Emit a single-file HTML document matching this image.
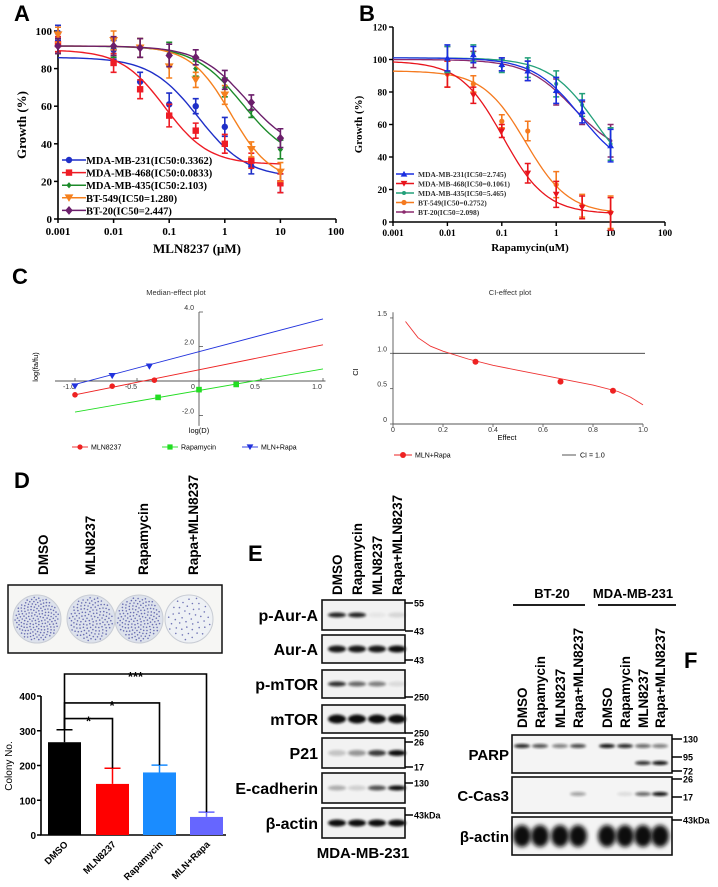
<!DOCTYPE html>
<html><head><meta charset="utf-8">
<style>
html,body{margin:0;padding:0;background:#fff;}
svg{display:block;}
.lbl{font-family:"Liberation Sans",Arial,sans-serif;font-weight:bold;font-size:22px;}
.ser{font-family:"Liberation Serif","Times New Roman",serif;font-weight:bold;}
.san{font-family:"Liberation Sans",Arial,sans-serif;}
.b{font-family:"Liberation Sans",Arial,sans-serif;font-weight:bold;}
</style></head>
<body>
<svg id="fig" width="718" height="887" viewBox="0 0 718 887" xmlns="http://www.w3.org/2000/svg">
<defs>
<filter id="blur1" x="-20%" y="-50%" width="140%" height="200%"><feGaussianBlur stdDeviation="1.2"/></filter>
<filter id="blur2" x="-20%" y="-50%" width="140%" height="200%"><feGaussianBlur stdDeviation="2"/></filter>
</defs>
<text class="lbl" x="14" y="21">A</text>
<text class="lbl" x="359" y="21">B</text>
<text class="lbl" x="12" y="284">C</text>
<text class="lbl" x="14" y="488">D</text>
<text class="lbl" x="248" y="561">E</text>
<text class="lbl" x="684" y="668">F</text>

<g id="gA"></g>
<g id="gB"></g>
<g id="gC1"></g>
<g id="gC2"></g>
<g id="gD"></g>
<g id="gE"></g>
<g id="gF"></g>
</svg>
<script>
// ---------- Panel A data ----------
const doseA = [0.001, 0.01, 0.03, 0.1, 0.3, 1, 3, 10];
const namesA = ["MDA-MB-231(IC50:0.3362)","MDA-MB-468(IC50:0.0833)","MDA-MB-435(IC50:2.103)","BT-549(IC50=1.280)","BT-20(IC50=2.447)"];
const a231 = [99, 90, 73, 61, 60, 49, 28, 19];
const a468 = [93, 83, 69, 55, 47, 40, 31, 19];
const a435 = [92, 91, 91, 88, 80, 70, 58, 37];
const a549 = [98, 95, 91, 81, 74, 66, 37, 25];
const aBT20 = [92, 92, 91, 87, 86, 74, 62, 43];
const errA = [4, 5, 5, 6, 4, 5, 4, 5];
const topA = [86, 90, 92, 92, 92];
const botA = [22, 29, 30, 20, 35];
const ic50A = [0.3362, 0.0833, 2.103, 1.28, 2.447];
const hillA = [1, 1.1, 1, 1.2, 1];
const yTicksA = [0, 20, 40, 60, 80, 100];
const xTicksA = ["0.001","0.01","0.1","1","10","100"];

// ---------- Panel B data ----------
const doseB = [0.01, 0.03, 0.1, 0.3, 1, 3, 10];
const namesB = ["MDA-MB-231(IC50=2.745)","MDA-MB-468(IC50=0.1061)","MDA-MB-435(IC50=5.465)","BT-549(IC50=0.2752)","BT-20(IC50=2.098)"];
const b231 = [101, 103, 97, 93, 81, 68, 47];
const b468 = [91, 78, 56, 30, 17, 9, 5];
const b435 = [100, 104, 96, 95, 85, 72, 48];
const b549 = [91, 85, 62, 56, 23, 10, 6];
const bBT20 = [100, 100, 97, 93, 80, 67, 50];
const errB = [8, 5, 4, 6, 8, 7, 10];
const topB = [101, 99, 101, 93, 100];
const botB = [30, 5, 20, 5, 40];
const ic50B = [2.745, 0.1061, 5.465, 0.2752, 2.098];
const hillB = [1, 1.1, 1, 1.1, 1];
const yTicksB = [0, 20, 40, 60, 80, 100, 120];

// ---------- Panel C data ----------
const medTicksX = [-1.0, -0.5, 0, 0.5, 1.0];
const medTicksY = [-2.0, 2.0, 4.0];
const lineMLN = [-0.8, 2.1];
const lineRapa = [-1.8, 0.7];
const lineCombo = [-0.2, 3.6];
const ptsMLNx = [-1.0, -0.7, -0.36];
const ptsMLNy = [-0.8, -0.3, 0.05];
const ptsRapaX = [-0.33, 0.0, 0.3];
const ptsRapaY = [-0.95, -0.5, -0.2];
const ptsComboX = [-1.0, -0.7, -0.4];
const ptsComboY = [-0.3, 0.3, 0.85];
const ciEffect = [0.05, 0.1, 0.15, 0.2, 0.3, 0.4, 0.5, 0.6, 0.7, 0.8, 0.9, 0.95, 1.0];
const ciValue = [1.45, 1.22, 1.1, 1.03, 0.92, 0.83, 0.76, 0.69, 0.62, 0.55, 0.46, 0.38, 0.27];
const ciPtsX = [0.33, 0.67, 0.88];
const ciPtsY = [0.88, 0.6, 0.47];
const ciTicksY = [0, 0.5, 1.0, 1.5];
const ciTicksX = [0, 0.2, 0.4, 0.6, 0.8, 1.0];

// ---------- Panel D data ----------
const colonyCats = ["DMSO","MLN8237","Rapamycin","MLN+Rapa"];
const colonyVals = [267, 147, 180, 52];
const colonyErr = [36, 45, 21, 14];
const colonyTicks = [0, 100, 200, 300, 400];

const NS = "http://www.w3.org/2000/svg";
function mk(parent, tag, attrs, txt){
  const e = document.createElementNS(NS, tag);
  for (const k in attrs) e.setAttribute(k, attrs[k]);
  if (txt !== undefined) e.textContent = txt;
  parent.appendChild(e);
  return e;
}
function marker(g, shape, x, y, s, col){
  let e;
  if (shape === "circle") e = mk(g, "circle", {cx:x, cy:y, r:s, fill:col});
  else if (shape === "square") e = mk(g, "rect", {x:x-s, y:y-s, width:2*s, height:2*s, fill:col});
  else if (shape === "diamond") e = mk(g, "polygon", {points:`${x},${y-s*1.3} ${x+s*1.1},${y} ${x},${y+s*1.3} ${x-s*1.1},${y}`, fill:col});
  else if (shape === "tdown") e = mk(g, "polygon", {points:`${x-s*1.3},${y-s} ${x+s*1.3},${y-s} ${x},${y+s*1.2}`, fill:col});
  else if (shape === "tup") e = mk(g, "polygon", {points:`${x-s*1.3},${y+s} ${x+s*1.3},${y+s} ${x},${y-s*1.2}`, fill:col});
  else e = mk(g, "circle", {cx:x, cy:y, r:s, fill:col});
  
  
  return e;
}
function fourPL(x, top, bot, ic, h){ return bot + (top - bot) / (1 + Math.pow(x / ic, h)); }

// ===== Panel A =====
(function(){
  const g = document.getElementById("gA");
  const x0 = 58, dec = 55.6, yb = 219, yt = 31;
  const sx = d => x0 + (Math.log10(d) + 3) * dec;
  const sy = v => yb - (v / 100) * (yb - yt);
  const ax = mk(g, "path", {d:`M${x0},${yt-2} V${yb} H${sx(100)}`, stroke:"#000", "stroke-width":1.6, fill:"none"});
  
  
  yTicksA.forEach(v => {
    mk(g, "line", {x1:x0-4, x2:x0, y1:sy(v), y2:sy(v), stroke:"#000", "stroke-width":1.5});
    const t = mk(g, "text", {x:x0-6, y:sy(v)+4, "text-anchor":"end", class:"ser", "font-size":11}, v);
    
    
  });
  xTicksA.forEach((s, i) => {
    const x = x0 + i * dec;
    mk(g, "line", {x1:x, x2:x, y1:yb, y2:yb+4, stroke:"#000", "stroke-width":1.5});
    const t = mk(g, "text", {x:x, y:yb+16, "text-anchor":"middle", class:"ser", "font-size":11}, s);
    
    
  });
  const yt1 = mk(g, "text", {x:0, y:0, transform:`translate(26,${(yb+yt)/2}) rotate(-90)`, "text-anchor":"middle", class:"ser", "font-size":13}, "Growth (%)");
  
  
  const xt1 = mk(g, "text", {x:197, y:253, "text-anchor":"middle", class:"ser", "font-size":13}, "MLN8237 (\u00b5M)");
  
  
  const series = [a231, a468, a435, a549, aBT20];
  const cols = ["#1f2fc8","#ee1c25","#1c8a2a","#f5801e","#6b1e6b"];
  const shapes = ["circle","square","diamond","tdown","diamond"];
  const sizes = [3.2, 3.2, 2.4, 3.4, 3.4];
  series.forEach((arr, i) => {
    let d = "";
    for (let k = 0; k <= 80; k++){
      const lx = -3 + k * 4 / 80; const xv = Math.pow(10, lx);
      d += (k ? "L" : "M") + sx(xv).toFixed(1) + "," + sy(fourPL(xv, topA[i], botA[i], ic50A[i], hillA[i])).toFixed(1);
    }
    const c = mk(g, "path", {d:d, stroke:cols[i], "stroke-width":1.4, fill:"none"});
    
    
    arr.forEach((v, k) => {
      const x = sx(doseA[k]);
      mk(g, "path", {d:`M${x},${sy(v+errA[k])} V${sy(v-errA[k])} M${x-3},${sy(v+errA[k])} H${x+3} M${x-3},${sy(v-errA[k])} H${x+3}`, stroke:cols[i], "stroke-width":1.6, fill:"none"});
      marker(g, shapes[i], x, sy(v), sizes[i], cols[i]);
    });
    const ly = 160 + i * 12.6;
    const ll = mk(g, "line", {x1:62, x2:86, y1:ly, y2:ly, stroke:cols[i], "stroke-width":1.5});
    
    
    marker(g, shapes[i], 69, ly, sizes[i], cols[i]);
    const lt = mk(g, "text", {x:86, y:ly+4, class:"ser", "font-size":10.5}, namesA[i]);
    
    
  });
})();

// ===== Panel B =====
(function(){
  const g = document.getElementById("gB");
  const x0 = 393, dec = 54.4, yb = 222, yt = 27;
  const sx = d => x0 + (Math.log10(d) + 3) * dec;
  const sy = v => yb - (v / 120) * (yb - yt);
  const ax = mk(g, "path", {d:`M${x0},${yt} V${yb} H${sx(100)}`, stroke:"#000", "stroke-width":1.5, fill:"none"});
  
  
  yTicksB.forEach(v => {
    mk(g, "line", {x1:x0-4, x2:x0, y1:sy(v), y2:sy(v), stroke:"#000", "stroke-width":1.4});
    const t = mk(g, "text", {x:x0-6, y:sy(v)+3.5, "text-anchor":"end", class:"ser", "font-size":9.5}, v);
    
    
  });
  xTicksA.forEach((s, i) => {
    const x = x0 + i * dec;
    mk(g, "line", {x1:x, x2:x, y1:yb, y2:yb+4, stroke:"#000", "stroke-width":1.4});
    const t = mk(g, "text", {x:x, y:yb+14, "text-anchor":"middle", class:"ser", "font-size":9.5}, s);
    
    
  });
  const yt1 = mk(g, "text", {x:0, y:0, transform:`translate(362,${(yb+yt)/2}) rotate(-90)`, "text-anchor":"middle", class:"ser", "font-size":11}, "Growth (%)");
  
  
  const xt1 = mk(g, "text", {x:530, y:251, "text-anchor":"middle", class:"ser", "font-size":11}, "Rapamycin(uM)");
  
  
  const series = [b231, b468, b435, b549, bBT20];
  const cols = ["#1a2ee0","#e8141c","#23a07a","#f57a1f","#8b2a6e"];
  const shapes = ["tup","tdown","circle","circle","circle"];
  const sizes = [2.6, 2.6, 2, 2.6, 1.8];
  const order = [3,1,4,2,0];
  order.forEach(i => {
    const arr = series[i];
    let d = "";
    for (let k = 0; k <= 80; k++){
      const lx = -3 + k * 4 / 80; const xv = Math.pow(10, lx);
      if (xv > 11) break;
      d += (k ? "L" : "M") + sx(xv).toFixed(1) + "," + sy(fourPL(xv, topB[i], botB[i], ic50B[i], hillB[i])).toFixed(1);
    }
    const c = mk(g, "path", {d:d, stroke:cols[i], "stroke-width":1.3, fill:"none"});
    
    
    arr.forEach((v, k) => {
      const x = sx(doseB[k]);
      mk(g, "path", {d:`M${x},${sy(v+errB[k])} V${sy(v-errB[k])} M${x-3},${sy(v+errB[k])} H${x+3} M${x-3},${sy(v-errB[k])} H${x+3}`, stroke:cols[i], "stroke-width":1.6, fill:"none"});
      marker(g, shapes[i], x, sy(v), sizes[i], cols[i]);
    });
  });
  [0,1,2,3,4].forEach(i => {
    const ly = 174 + i * 9.5;
    const ll = mk(g, "line", {x1:396, x2:414, y1:ly, y2:ly, stroke:cols[i], "stroke-width":1.4});
    
    
    marker(g, shapes[i], 404, ly, sizes[i], cols[i]);
    const lt = mk(g, "text", {x:418, y:ly+3, class:"ser", "font-size":7.5, fill:"#333"}, namesB[i]);
    
    
  });
})();

// ===== Panel C left: median-effect plot =====
(function(){
  const g = document.getElementById("gC1");
  const x0 = 199, ux = 124, y0 = 381, uy = 17.25;
  const sx = v => x0 + v * ux;
  const sy = v => y0 - v * uy;
  const tt = mk(g, "text", {x:176, y:295, "text-anchor":"middle", class:"san", "font-size":7.5, fill:"#333"}, "Median-effect plot");
  
  
  mk(g, "path", {d:`M55,${y0} H${sx(1.02)} M${x0},${sy(4)} V${sy(-2.6)}`, stroke:"#555", "stroke-width":0.9, fill:"none"});
  medTicksY.forEach(v => {
    mk(g, "line", {x1:x0, x2:x0+4, y1:sy(v), y2:sy(v), stroke:"#555", "stroke-width":0.8});
    const t = mk(g, "text", {x:x0-5, y:sy(v)-2, "text-anchor":"end", class:"san", "font-size":7, fill:"#333"}, v.toFixed(1));
    
    
  });
  medTicksX.forEach(v => {
    mk(g, "line", {x1:sx(v), x2:sx(v), y1:y0, y2:y0-3, stroke:"#555", "stroke-width":0.8});
    const t = mk(g, "text", {x:sx(v)-6, y:y0+8, "text-anchor":"middle", class:"san", "font-size":7, fill:"#333"}, v === 0 ? "0" : v.toFixed(1));
    
    
  });
  const yl = mk(g, "text", {x:0, y:0, transform:`translate(38,367) rotate(-90)`, "text-anchor":"middle", class:"san", "font-size":7.5}, "log(fa/fu)");
  
  
  const xl = mk(g, "text", {x:199, y:433, "text-anchor":"middle", class:"san", "font-size":7.5}, "log(D)");
  
  
  const defs = [
    [lineMLN, ptsMLNx, ptsMLNy, "#ee2222", "circle", "MLN8237", 80],
    [lineRapa, ptsRapaX, ptsRapaY, "#22dd22", "square", "Rapamycin", 170],
    [lineCombo, ptsComboX, ptsComboY, "#2233dd", "tdown", "MLN+Rapa", 250]
  ];
  defs.forEach(dd => {
    const l = mk(g, "line", {x1:sx(-1), y1:sy(dd[0][0]), x2:sx(1), y2:sy(dd[0][1]), stroke:dd[3], "stroke-width":0.9});
    
    
    dd[1].forEach((xv, k) => marker(g, dd[4], sx(xv), sy(dd[2][k]), 2.8, dd[3]));
    mk(g, "line", {x1:dd[6]-8, x2:dd[6]+8, y1:447, y2:447, stroke:dd[3], "stroke-width":0.9});
    marker(g, dd[4], dd[6], 447, 2.6, dd[3]);
    const t = mk(g, "text", {x:dd[6]+11, y:449.5, class:"san", "font-size":7}, dd[5]);
    
    
  });
})();

// ===== Panel C right: CI-effect plot =====
(function(){
  const g = document.getElementById("gC2");
  const x0 = 393, ux = 250, y0 = 424, uy = 70.7;
  const sx = v => x0 + v * ux;
  const sy = v => y0 - v * uy;
  const tt = mk(g, "text", {x:510, y:295, "text-anchor":"middle", class:"san", "font-size":7.5, fill:"#333"}, "CI-effect plot");
  
  
  mk(g, "path", {d:`M${x0},${sy(1.58)} V${y0} H${sx(1.0)}`, stroke:"#555", "stroke-width":0.9, fill:"none"});
  ciTicksY.forEach(v => {
    mk(g, "line", {x1:x0-3, x2:x0, y1:sy(v), y2:sy(v), stroke:"#555", "stroke-width":0.8});
    const t = mk(g, "text", {x:x0-6, y:sy(v)-2, "text-anchor":"end", class:"san", "font-size":7, fill:"#333"}, v === 0 ? "0" : v.toFixed(1));
    
    
  });
  ciTicksX.forEach(v => {
    mk(g, "line", {x1:sx(v), x2:sx(v), y1:y0, y2:y0+3, stroke:"#555", "stroke-width":0.8});
    const t = mk(g, "text", {x:sx(v), y:y0+8, "text-anchor":"middle", class:"san", "font-size":7, fill:"#333"}, v === 0 ? "0" : v.toFixed(1));
    
    
  });
  const ref = mk(g, "line", {x1:x0, x2:645, y1:sy(1), y2:sy(1), stroke:"#333", "stroke-width":0.9});
  
  
  const yl = mk(g, "text", {x:0, y:0, transform:`translate(358,372) rotate(-90)`, "text-anchor":"middle", class:"san", "font-size":7.5}, "CI");
  
  
  const xl = mk(g, "text", {x:507, y:440, "text-anchor":"middle", class:"san", "font-size":7.5}, "Effect");
  
  
  let d = "";
  ciEffect.forEach((e, k) => { d += (k ? "L" : "M") + sx(e).toFixed(1) + "," + sy(ciValue[k]).toFixed(1); });
  const c = mk(g, "path", {d:d, stroke:"#ee3333", "stroke-width":0.9, fill:"none"});
  
  
  ciPtsX.forEach((e, k) => marker(g, "circle", sx(e), sy(ciPtsY[k]), 3, "#ee2222"));
  mk(g, "line", {x1:394, x2:412, y1:455, y2:455, stroke:"#ee2222", "stroke-width":0.9});
  marker(g, "circle", 403, 455, 3, "#ee2222");
  const t1 = mk(g, "text", {x:415, y:457.5, class:"san", "font-size":7}, "MLN+Rapa");
  
  
  mk(g, "line", {x1:562, x2:576, y1:455, y2:455, stroke:"#555", "stroke-width":1});
  const t2 = mk(g, "text", {x:580, y:457.5, class:"san", "font-size":7}, "CI = 1.0");
  
  
})();

// ===== Panel D =====
(function(){
  const g = document.getElementById("gD");
  const colX = [43, 90, 143, 193];
  const labs = ["DMSO","MLN8237","Rapamycin","Rapa+MLN8237"];
  labs.forEach((s, i) => {
    const t = mk(g, "text", {x:0, y:0, transform:`translate(${colX[i]+5},575) rotate(-90)`, class:"b", "font-size":13.5}, s);
    
    
  });
  const box = mk(g, "rect", {x:8, y:585, width:214, height:68, fill:"#f6f6f4", stroke:"#111", "stroke-width":1.5});
  
  
  const cx = [37, 91, 139, 189];
  const dens = [0.9, 0.75, 0.8, 0.25];
  cx.forEach((x, i) => {
    const p = mk(g, "circle", {cx:x, cy:619, r:24, fill:i===3?"#eef1f5":"#dde2ec", stroke:"#c8ccd4", "stroke-width":1});
    
    
    const n = Math.round(dens[i] * 180);
    for (let k = 0; k < n; k++){
      const a = (k * 137.5) * Math.PI / 180;
      const r = 22 * Math.sqrt((k + 0.5) / n);
      mk(g, "circle", {cx:(x + r * Math.cos(a)).toFixed(1), cy:(619 + r * Math.sin(a)).toFixed(1), r:0.8, fill:"#3a3f9a", opacity:0.7});
    }
  });
  const x0 = 41, yb = 835, yt = 696;
  const sy = v => yb - v / 400 * (yb - yt);
  mk(g, "path", {d:`M${x0},${sy(400)} V${yb} H226`, stroke:"#000", "stroke-width":1.6, fill:"none"});
  colonyTicks.forEach(v => {
    mk(g, "line", {x1:x0-4, x2:x0, y1:sy(v), y2:sy(v), stroke:"#000", "stroke-width":1.5});
    const t = mk(g, "text", {x:x0-5, y:sy(v)+4, "text-anchor":"end", class:"b", "font-size":10}, v);
    
    
  });
  const yl = mk(g, "text", {x:0, y:0, transform:`translate(12,766) rotate(-90)`, "text-anchor":"middle", class:"san", "font-size":10}, "Colony No.");
  
  
  const bx = [48, 96, 143, 190];
  const bw = 33;
  const cols = ["#000000","#ff0000","#1a8cff","#6666ff"];
  colonyVals.forEach((v, i) => {
    const r = mk(g, "rect", {x:bx[i], y:sy(v), width:bw, height:yb - sy(v), fill:cols[i]});
    
    
    const c = bx[i] + bw / 2, e = v + colonyErr[i];
    mk(g, "path", {d:`M${c},${sy(v)} V${sy(e)} M${c-8},${sy(e)} H${c+8}`, stroke:cols[i], "stroke-width":1.5, fill:"none"});
    const t = mk(g, "text", {x:0, y:0, transform:`translate(${c+4},${yb+10}) rotate(-45)`, "text-anchor":"end", class:"b", "font-size":9.5}, colonyCats[i]);
    
    
  });
  const c0 = bx[0] + bw / 2;
  const brY = [sy(335), sy(380), 674];
  [1, 2, 3].forEach((j, n) => {
    const y = brY[n];
    const cj = bx[j] + bw / 2;
    const top = sy(colonyVals[j] + colonyErr[j]);
    const p = mk(g, "path", {d:`M${c0},${sy(colonyVals[0]+colonyErr[0])} V${y} H${cj} V${top}`, stroke:"#000", "stroke-width":1.6, fill:"none"});
    
    
    const s = mk(g, "text", {x:(c0 + cj) / 2, y:y + 7, "text-anchor":"middle", class:"b", "font-size":13}, n === 2 ? "***" : "*");
    
    
  });
})();

// ===== Western blots =====
function band(g, x, y, w, h, op, filt){
  const e = mk(g, "ellipse", {cx:x, cy:y, rx:w/2, ry:h/2, fill:"#111", opacity:op, filter:filt||"url(#blur1)"});
  
  
}
(function(){
  const g = document.getElementById("gE");
  const cols = [337, 357, 377, 397];
  ["DMSO","Rapamycin","MLN8237","Rapa+MLN8237"].forEach((s, i) => {
    const t = mk(g, "text", {x:0, y:0, transform:`translate(${cols[i]+5},595) rotate(-90)`, class:"b", "font-size":13.5}, s);
    
    
  });
  const rows = [
    ["p-Aur-A", 600, 630, [0.9, 0.9, 0.05, 0.12], 5],
    ["Aur-A", 635, 663, [0.95, 0.95, 0.95, 1], 7],
    ["p-mTOR", 670, 698, [0.85, 0.6, 0.5, 0.1], 5],
    ["mTOR", 705, 733, [1, 1, 1, 1], 9],
    ["P21", 738, 768, [0.2, 0.4, 0.8, 1], 6],
    ["E-cadherin", 773, 803, [0.3, 0.15, 0.7, 1], 5],
    ["\u03b2-actin", 808, 838, [1, 1, 1, 1], 7]
  ];
  rows.forEach(r => {
    const b = mk(g, "rect", {x:322, y:r[1], width:83, height:r[2]-r[1], fill:"#f2f2f2", stroke:"#111", "stroke-width":1.6});
    
    
    const t = mk(g, "text", {x:318, y:(r[1]+r[2])/2+6, "text-anchor":"end", class:"b", "font-size":16}, r[0]);
    
    
    r[3].forEach((o, i) => band(g, cols[i], (r[1]+r[2])/2, 18, r[4], o));
  });
  const mw = [["55",603],["43",631],["43",660],["250",697],["250",733],["26",742],["17",767],["130",783],["43kDa",815]];
  mw.forEach(m => {
    mk(g, "line", {x1:405, x2:413, y1:m[1], y2:m[1], stroke:"#000", "stroke-width":1.5});
    const t = mk(g, "text", {x:414, y:m[1]+3.5, class:"b", "font-size":9}, m[0]);
    
    
  });
  const t = mk(g, "text", {x:363, y:858, "text-anchor":"middle", class:"b", "font-size":15}, "MDA-MB-231");
  
  
})();
(function(){
  const g = document.getElementById("gF");
  const cols = [522, 540, 560, 578, 607, 625, 643, 660];
  const t1 = mk(g, "text", {x:552, y:598, "text-anchor":"middle", class:"b", "font-size":13}, "BT-20");
  
  
  const t2 = mk(g, "text", {x:633, y:598, "text-anchor":"middle", class:"b", "font-size":13}, "MDA-MB-231");
  
  
  mk(g, "line", {x1:513, x2:585, y1:605, y2:605, stroke:"#000", "stroke-width":1.8});
  mk(g, "line", {x1:598, x2:676, y1:605, y2:605, stroke:"#000", "stroke-width":1.8});
  const labs = ["DMSO","Rapamycin","MLN8237","Rapa+MLN8237"];
  cols.forEach((x, i) => {
    const t = mk(g, "text", {x:0, y:0, transform:`translate(${x+5},728) rotate(-90)`, class:"b", "font-size":13.5}, labs[i % 4]);
    
    
  });
  const rows = [["PARP", 735, 773], ["C-Cas3", 777, 813], ["\u03b2-actin", 817, 855]];
  rows.forEach(r => {
    const b = mk(g, "rect", {x:512, y:r[1], width:160, height:r[2]-r[1], fill:"#f4f4f4", stroke:"#111", "stroke-width":1.6});
    
    
    const t = mk(g, "text", {x:509, y:(r[1]+r[2])/2+6, "text-anchor":"end", class:"b", "font-size":15}, r[0]);
    
    
  });
  const parpTop = [0.9, 0.7, 0.5, 0.75, 1, 0.9, 0.6, 0.5];
  const parpCl = [0, 0, 0, 0, 0, 0, 0.85, 1];
  const cas = [0, 0, 0, 0.35, 0, 0.1, 0.6, 1];
  cols.forEach((x, i) => {
    band(g, x, 746, 16, 4, parpTop[i]);
    if (parpCl[i]) band(g, x, 763, 16, 4, parpCl[i]);
    if (cas[i]) band(g, x, 794, 16, 4, cas[i]);
    band(g, x, 836, 18, 22, 1, "url(#blur2)");
  });
  const mw = [["130",739],["95",757],["72",771],["26",779],["17",797],["43kDa",820]];
  mw.forEach(m => {
    mk(g, "line", {x1:672, x2:682, y1:m[1], y2:m[1], stroke:"#000", "stroke-width":1.5});
    const t = mk(g, "text", {x:683, y:m[1]+3.5, class:"b", "font-size":9}, m[0]);
    
    
  });
})();
</script>
</body></html>
